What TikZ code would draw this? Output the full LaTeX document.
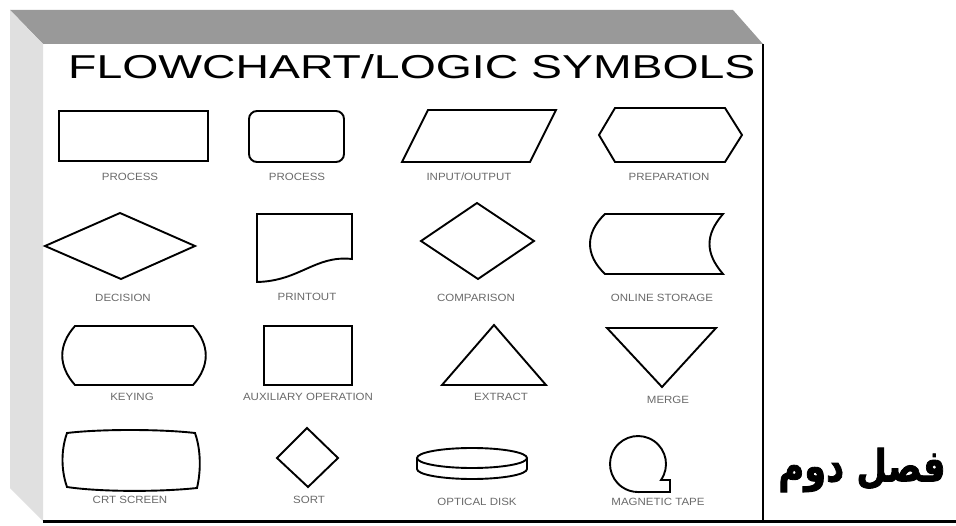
\documentclass[tikz,border=0pt]{standalone}
\usepackage{fontspec}
\usepackage{graphicx}
\setmainfont{Liberation Sans}
\newfontfamily\arabicfont[Script=Arabic, BoldFeatures={FakeBold=2}]{DejaVu Sans}
\TeXXeTstate=1
\definecolor{bandgray}{HTML}{999999}
\definecolor{sidegray}{HTML}{E0E0E0}
\definecolor{labelgray}{HTML}{6A6A6A}
\newcommand{\lbltext}[1]{\scalebox{1.15}[1.05]{#1}}
\tikzset{
  sym/.style={draw=black, line width=1.9pt, line join=miter},
  lbl/.style={text=labelgray, font=\fontsize{10}{12}\selectfont, inner sep=0pt, anchor=center},
}
\begin{document}
\begin{tikzpicture}[x=1pt, y=-1pt]
\useasboundingbox (0,0) rectangle (956,526);
\fill[white] (0,0) rectangle (956,526);
% frame
\fill[bandgray] (10,10) -- (733,10) -- (763,44) -- (43,44) -- cycle;
\fill[sidegray] (10,10) -- (43,44) -- (43,521) -- (10,488) -- cycle;
\draw[line width=1.6pt] (763,44) -- (763,521);
\draw[line width=3pt] (43,521) -- (956,521);
% title
\node[anchor=base west, inner sep=0pt] (title) at (68,79)
  {\resizebox{687pt}{24pt}{FLOWCHART/LOGIC SYMBOLS}};
% row 1
\draw[sym] (59,111) rectangle (208,161);
\node[lbl] (l1) at (130,177) {\lbltext{PROCESS}};
\draw[sym, rounded corners=8pt] (249,111) rectangle (344,162);
\node[lbl] (l2) at (297,177) {\lbltext{PROCESS}};
\draw[sym] (428,110) -- (556,110) -- (530,162) -- (402,162) -- cycle;
\node[lbl] (l3) at (469,177) {\lbltext{INPUT/OUTPUT}};
\draw[sym] (599,135) -- (615,108) -- (725,108) -- (742,135) -- (725,162) -- (615,162) -- cycle;
\node[lbl] (l4) at (669,177) {\lbltext{PREPARATION}};
% row 2
\draw[sym] (45,246) -- (120,213) -- (195,246) -- (121,279) -- cycle;
\node[lbl] (l5) at (123,298) {\lbltext{DECISION}};
\draw[sym] (257,282) -- (257,214) -- (352,214) -- (352,259) .. controls (315,255) and (300,281) .. (257,282) -- cycle;
\node[lbl] (l6) at (307,297) {\lbltext{PRINTOUT}};
\draw[sym] (421,241) -- (477,203) -- (534,241) -- (478,279) -- cycle;
\node[lbl] (l7) at (476,298) {\lbltext{COMPARISON}};
\draw[sym] (605,214) -- (723,214) .. controls (705,235) and (705,253) .. (723,274) -- (605,274) .. controls (585,255) and (585,233) .. (605,214) -- cycle;
\node[lbl] (l8) at (662,298) {\lbltext{ONLINE STORAGE}};
% row 3
\draw[sym] (75,326) -- (193,326) .. controls (210,345) and (210,366) .. (193,385) -- (75,385) .. controls (58,366) and (58,345) .. (75,326) -- cycle;
\node[lbl] (l9) at (132,397) {\lbltext{KEYING}};
\draw[sym] (264,326) rectangle (352,385);
\node[lbl] (l10) at (308,397) {\lbltext{AUXILIARY OPERATION}};
\draw[sym] (494,325) -- (546,385) -- (442,385) -- cycle;
\node[lbl] (l11) at (501,397) {\lbltext{EXTRACT}};
\draw[sym] (607,328) -- (716,328) -- (662,387) -- cycle;
\node[lbl] (l12) at (668,400) {\lbltext{MERGE}};
% row 4
\draw[sym] (67,433) .. controls (100,429) and (160,429) .. (195,433) .. controls (201,450) and (201,471) .. (197,488) .. controls (160,492) and (100,492) .. (67,487) .. controls (61,470) and (61,450) .. (67,433) -- cycle;
\node[lbl] (l13) at (130,500) {\lbltext{CRT SCREEN}};
\draw[sym] (307,428) -- (338,458) -- (308,487) -- (277,458) -- cycle;
\node[lbl] (l14) at (309,500) {\lbltext{SORT}};
\draw[sym] (472,458) ellipse[x radius=55, y radius=10];
\draw[sym] (417,458) -- (417,469) arc[start angle=180, end angle=0, x radius=55, y radius=10] -- (527,458);
\node[lbl] (l15) at (477,502) {\lbltext{OPTICAL DISK}};
\draw[sym] (638,492) -- (670,492) -- (670,480) -- (661,480) arc[start angle=34.8, end angle=-270, radius=28] -- cycle;
\node[lbl] (l16) at (658,502) {\lbltext{MAGNETIC TAPE}};
% arabic
\node[inner sep=0pt] (fasl) at (862,470) {\scalebox{0.8}[1]{\arabicfont\bfseries\fontsize{44}{50}\selectfont\beginR فصل دوم\endR}};
\end{tikzpicture}
\end{document}
